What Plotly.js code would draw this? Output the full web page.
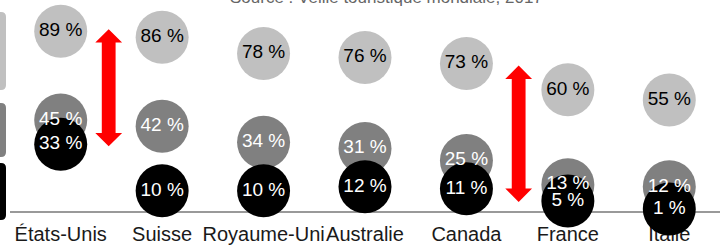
<!DOCTYPE html>
<html>
<head>
<meta charset="utf-8">
<script src="https://cdn.plot.ly/plotly-3.0.1.min.js"></script>
<style>
html,body{margin:0;padding:0;background:#fff;}
#chart{width:726px;height:245px;}
</style>
</head>
<body>
<div id="chart"></div>
<script>
// ---- data ----
var categories = ['États-Unis', 'Suisse', 'Royaume-Uni', 'Australie', 'Canada', 'France', 'Italie'];
var seriesLight = [89, 86, 78, 76, 73, 60, 55];
var seriesDark  = [45, 42, 34, 31, 25, 13, 12];
var seriesBlack = [33, 10, 10, 12, 11, 5, 1];
// gap arrows: x position (category index), top value, bottom value
var arrowX    = [0.473, 4.515];
var arrowTop  = [90, 72];
var arrowBot  = [32, 4.5];
var sourceText = 'Source : Veille touristique mondiale, 2017';

var FONT = 'Liberation Sans, Helvetica, Arial, sans-serif';
var colors = ['#c0c0c0', '#808080', '#000000'];
var textColors = ['#000000', '#ffffff', '#ffffff'];
var allSeries = [seriesLight, seriesDark, seriesBlack];
var idx = categories.map(function (c, i) { return i; });

// pixel scales of the plot area (for arrow geometry)
var PX_PER_X = 710 / 7, PX_PER_Y = 2.02;

var traces = [];
// arrows as filled polygons
arrowX.forEach(function (x, i) {
  var hh = 13.4 / PX_PER_X, sh = 6.9 / PX_PER_X, hl = 13.4 / PX_PER_Y;
  var t = arrowTop[i], b = arrowBot[i];
  traces.push({
    type: 'scatter', mode: 'lines', fill: 'toself', fillcolor: '#ff0000',
    line: {width: 0, color: '#ff0000'},
    x: [x, x + hh, x + sh, x + sh, x + hh, x, x - hh, x - sh, x - sh, x - hh, x],
    y: [t, t - hl, t - hl, b + hl, b + hl, b, b + hl, b + hl, t - hl, t - hl, t],
    hoverinfo: 'skip', showlegend: false, cliponaxis: false
  });
});
allSeries.forEach(function (s, i) {
  traces.push({
    type: 'scatter', mode: 'markers', x: idx, y: s,
    marker: {size: 53, color: colors[i], line: {width: 0}},
    cliponaxis: false, hoverinfo: 'skip', showlegend: false
  });
});
allSeries.forEach(function (s, i) {
  traces.push({
    type: 'scatter', mode: 'text', x: idx, y: s,
    text: s.map(function (v) { return v + ' %'; }),
    textposition: 'middle center',
    textfont: {family: FONT, size: 19, color: textColors[i]},
    cliponaxis: false, hoverinfo: 'skip', showlegend: false
  });
});

var annotations = [{
  xref: 'paper', yref: 'paper', x: (386 - 10) / 710, y: 1.0095,
  xanchor: 'center', yanchor: 'middle', showarrow: false,
  text: sourceText, font: {family: FONT, size: 17, color: '#666666'}
}];

// legend-like swatches at left edge (cut off)
function px2x(p) { return (p - 10) / 710; }
function px2y(p) { return (211 - p) / 211; }
function rr(x0, x1, yTop, yBot, r) {
  var X0 = px2x(x0), X1 = px2x(x1), T = px2y(yTop), B = px2y(yBot);
  var rx = r / 710, ry = r / 211;
  return 'M' + X0 + ',' + B + ' L' + (X1 - rx) + ',' + B +
    ' Q' + X1 + ',' + B + ' ' + X1 + ',' + (B + ry) +
    ' L' + X1 + ',' + (T - ry) +
    ' Q' + X1 + ',' + T + ' ' + (X1 - rx) + ',' + T +
    ' L' + X0 + ',' + T + ' Z';
}
var swatches = [[12, 90], [103, 157], [163, 220]];
var shapes = swatches.map(function (b, i) {
  return {type: 'path', xref: 'paper', yref: 'paper', path: rr(-30, 6, b[0], b[1], 5),
    fillcolor: colors[i], line: {width: 0}, layer: 'below'};
});

var layout = {
  width: 726, height: 245,
  margin: {l: 10, r: 6, t: 0, b: 34, pad: 0},
  paper_bgcolor: '#ffffff', plot_bgcolor: '#ffffff',
  showlegend: false,
  xaxis: {
    type: 'linear', range: [-0.5, 6.5], tickangle: 0,
    tickmode: 'array', tickvals: idx, ticktext: categories,
    showline: true, linecolor: '#999999', linewidth: 2,
    ticks: '', showgrid: false, zeroline: false, layer: 'below traces',
    ticklabelstandoff: 4,
    tickfont: {family: FONT, size: 20, color: '#1a1a1a'}, fixedrange: true
  },
  yaxis: {range: [0, 211 / PX_PER_Y], visible: false, fixedrange: true},
  annotations: annotations,
  shapes: shapes
};

Plotly.newPlot('chart', traces, layout, {staticPlot: true, displayModeBar: false});
</script>
</body>
</html>
